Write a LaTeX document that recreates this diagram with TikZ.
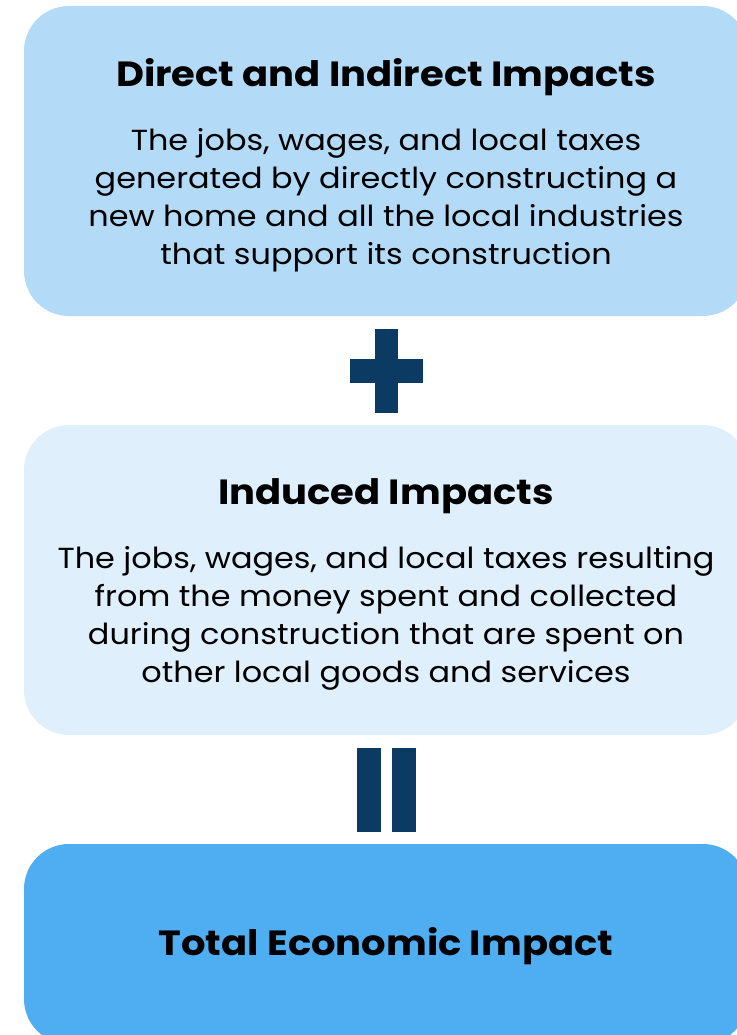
\documentclass[tikz,border=0pt]{standalone}
\usepackage{fontspec}
\setmainfont{Poppins}[FakeStretch=1.1]
\definecolor{chiaro}{HTML}{B3DBF8}
\definecolor{tenue}{HTML}{DFEFFC}
\definecolor{pieno}{HTML}{4FADF2}
\definecolor{notte}{HTML}{0B3A63}
\begin{document}
\begin{tikzpicture}[
			x=1pt, y=-1pt,
			riquadro/.style={rounded corners=45pt, inner sep=0pt, minimum width=724pt},
			titolo/.style={font=\fontsize{35}{40}\selectfont\bfseries, text=black},
			testo/.style={font=\fontsize{29}{38}\selectfont, align=center, text=black},
			segno/.style={fill=notte},
			]
			
			\def\cx{386}     % asse centrale dei riquadri
			
			\useasboundingbox (0,0) rectangle (736,1035);
			
			%%═══ RIQUADRO 1 — impatti diretti e indiretti ═══════════════════
			\node[riquadro, fill=chiaro, minimum height=310pt] (diretti) at (\cx,161) {};
			\node[titolo] (titoloDiretti) at (\cx,77) {Direct and Indirect Impacts};
			\node[testo] (testoDiretti) at (\cx,200) {The jobs, wages, and local taxes\\
				generated by directly constructing a\\
				new home and all the local industries\\
				that support its construction};
			
			% segno piu
			\fill[segno] (375,329) rectangle (398,413);
			\fill[segno] (350,359) rectangle (423,383);
			
			%%═══ RIQUADRO 2 — impatti indotti ═══════════════════════════════
			\node[riquadro, fill=tenue, minimum height=310pt] (indotti) at (\cx,580) {};
			\node[titolo] (titoloIndotti) at (\cx,496) {Induced Impacts};
			\node[testo] (testoIndotti) at (\cx,618) {The jobs, wages, and local taxes resulting\\
				from the money spent and collected\\
				during construction that are spent on\\
				other local goods and services};
			
			% segno uguale (verticale)
			\fill[segno] (357,748) rectangle (381,832);
			\fill[segno] (392,748) rectangle (416,832);
			
			%%═══ RIQUADRO 3 — impatto totale ════════════════════════════════
			\node[riquadro, fill=pieno, minimum height=200pt] (totale) at (\cx,944) {};
			\node[titolo] (titoloTotale) at (\cx,946) {Total Economic Impact};
			
		\end{tikzpicture}
\end{document}
